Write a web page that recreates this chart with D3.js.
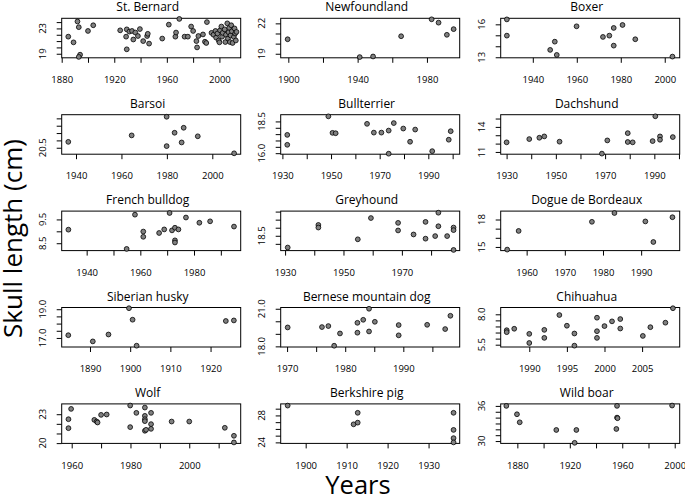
<!DOCTYPE html>
<html><head><meta charset="utf-8">
<script src="https://cdn.jsdelivr.net/npm/d3@7"></script>
<style>body{margin:0;background:#fff}svg{display:block}text{font-family:"Open Sans",sans-serif;fill:#000}</style>
</head><body><svg id="c" width="685" height="498"></svg>
<script>
// ---------- data (year, skull length in cm) ----------
const titles = ["St. Bernard","Newfoundland","Boxer","Barsoi","Bullterrier","Dachshund","French bulldog","Greyhound","Dogue de Bordeaux","Siberian husky","Bernese mountain dog","Chihuahua","Wolf","Berkshire pig","Wild boar"];

const stBernardYears = [1885,1889,1892,1893,1894,1893,1900,1904,1924.5,1929.5,1929,1929.5,1931.5,1933.5,1934.5,1936,1938,1939.5,1942,1945,1945.5,1946.5,1956.5,1961.5,1966.5,1967,1969.5,1973.5,1976,1978.5,1980,1982.5,1983,1984,1987.5,1989,1990,1990.5,1994,1995.5,1997,1997.5,1998.5,1999.5,2000,2000.5,2001.5,2002,2002.5,2004,2004.5,2005,2006,2006.5,2007,2007.5,2008,2008.5,2009,2009.5,2010,2011,2011.5,2012,2012.5,2013];
const stBernardSkull = [21.7,20.8,24.1,23.2,18.85,18.5,22.6,23.5,22.7,22.85,21.7,19.7,22.5,22.6,21.25,22.35,21.8,22.9,21.0,21.8,22.15,20.6,21.4,23.6,21.7,22.35,24.5,21.7,21.7,23.3,22.6,21.0,20.0,21.8,22.05,20.9,20.7,24.0,22.3,22.0,22.6,21.55,22.2,21.1,20.8,22.7,23.3,21.7,22.3,22.85,20.85,22.0,23.8,21.4,22.4,23.1,20.85,21.9,23.5,22.55,20.7,21.65,23.0,22.2,21.1,22.45];

const newfoundlandYears = [1899.6,1941.2,1948.9,1965.1,1982.7,1986.7,1991.5,1995.4];
const newfoundlandSkull = [20.43,18.67,18.73,20.73,22.4,22.07,20.87,21.43];

const boxerYears = [1928.2,1928.2,1947.9,1950,1950.9,1959.9,1971.9,1974.8,1976.8,1976.8,1980.8,1986.6,2003.5];
const boxerSkull = [16.45,14.97,13.67,14.42,13.21,15.82,14.85,14.97,15.67,14.06,15.94,14.64,13.06];

const barsoiYears = [1936.6,1964.5,1979.9,1979.9,1983.4,1986.5,1987.4,1993.6,2009.6];
const barsoiSkull = [20.9,21.34,22.61,20.61,21.52,20.86,21.86,21.28,20.12];

const bullterrierYears = [1932,1932,1948.9,1950.6,1951.9,1964.8,1967.6,1970.7,1973.7,1973.7,1975.8,1979.7,1982.5,1984.6,1991.6,1998.4,1999.2];
const bullterrierSkull = [17.44,16.66,18.9,17.6,17.57,18.31,17.62,17.62,17.78,15.96,18.37,17.94,16.9,17.86,16.16,17.06,17.73];

const dachshundYears = [1930,1939.2,1943.3,1945.3,1951.5,1968.7,1970.9,1979.2,1979.2,1981.2,1989.3,1990.4,1992.3,1992.3,1997.5];
const dachshundSkull = [12.15,12.54,12.7,12.86,12.23,10.8,12.38,13.25,12.19,12.15,12.3,15.27,12.86,12.46,12.78];

const frenchBulldogYears = [1933.2,1954.9,1958,1961.1,1961.1,1967,1968.9,1970.9,1971.8,1972.9,1972.9,1972.9,1974.2,1977,1982,1986,1994.9];
const frenchBulldogSkull = [9.07,8.26,9.7,8.99,8.77,8.93,9.08,9.77,9.04,9.15,8.62,8.53,9.08,9.58,9.36,9.42,9.2];

const greyhoundYears = [1930.9,1941.4,1941.4,1954.9,1959.4,1968.7,1968.7,1974,1978.1,1978.1,1981.4,1982.5,1982.5,1985.5,1987.7,1987.7,1987.7];
const greyhoundSkull = [17.77,19.17,19.01,18.28,19.6,19.3,18.83,18.58,19.36,18.32,18.48,19.93,19.09,18.48,19.01,18.85,17.62];

const dogueYears = [1954.9,1957.9,1977.1,1983,1991.1,1993.2,1998.2];
const dogueSkull = [14.71,16.75,17.75,18.71,17.79,15.54,18.25];

const huskyYears = [1884.6,1890.7,1894.6,1899.7,1900.6,1901.6,1923.8,1925.8];
const huskySkull = [17.19,16.76,17.24,19.07,18.27,16.46,18.18,18.22];

const berneseYears = [1970.1,1976,1977.1,1978.1,1979.1,1982.1,1982.1,1983.1,1984.1,1984.1,1985.1,1989.2,1989.2,1994.1,1997.2,1998.1];
const berneseSkull = [19.51,19.54,19.62,18.05,19.03,19.88,19.09,20.12,21.0,19.19,19.96,19.7,18.88,19.72,19.38,20.44];

const chihuahuaYears = [1987,1987,1988,1990,1990,1992,1992,1994,1995,1996,1996,1999,1999,1999,2000,2001,2002.1,2002.1,2005.1,2006.1,2008.1,2009.1];
const chihuahuaSkull = [6.69,6.53,6.81,6.39,5.64,6.72,6.06,7.94,7.06,6.42,5.42,7.72,6.61,6.06,7.03,7.42,7.61,6.83,6.22,6.94,7.31,8.5];

const wolfYears = [1958.9,1958.9,1959.8,1967.7,1968.5,1968.8,1970,1971.9,1979.9,1979.9,1982,1984.9,1984.9,1984.9,1984.9,1984.9,1985.3,1987,1987,1987,1994,2000,2012.1,2015.2,2015.2];
const wolfSkull = [22.48,21.55,23.55,22.41,22.24,22.14,22.93,22.97,23.9,21.66,23.14,23.69,22.83,22.48,22.28,21.28,21.38,23.14,21.97,21.48,22.24,22.24,21.59,20.76,20.07];

const berkshireYears = [1895.6,1911.7,1912.7,1912.7,1936.1,1936.1,1936.1,1936.1];
const berkshireSkull = [29.46,26.68,26.93,28.39,28.39,25.85,24.63,24.0];

const boarYears = [1871.6,1879.7,1881.8,1909.7,1925,1923.7,1955.5,1956,1956,1956.4,1998];
const boarSkull = [36.0,34.57,33.2,31.89,31.89,29.7,32.06,36.0,34.0,33.9,36.06];

// ---------- axis ranges and ticks (data units) ----------
const xRanges = [[1880,2016.2],[1895.6,1998.9],[1925.4,2006.8],[1933.7,2012.5],[1929.3,2002.9],[1927.6,2000.3],[1930.7,1997.4],[1928.5,1989.8],[1953.2,2000.1],[1882.96,1927.5],[1968.9,1999.7],[1986.2,2010.0],[1956.6,2017.5],[1893.9,1937.6],[1867.3,2003.8]];
const yRanges = [[18.36,24.6],[18.6,22.5],[12.95,16.55],[20.06,22.75],[15.92,19.03],[10.73,15.46],[8.19,9.85],[17.58,20.03],[14.6,18.92],[16.37,19.12],[17.95,21.1],[5.31,8.56],[19.97,24.07],[23.85,29.71],[29.6,36.34]];

const xTicks = [[1880,1900,1920,1940,1960,1980,2000],[1900,1920,1940,1960,1980],[1940,1960,1980,2000],[1940,1960,1980,2000],[1930,1940,1950,1960,1970,1980,1990,2000],[1930,1940,1950,1960,1970,1980,1990,2000],[1940,1950,1960,1970,1980,1990],[1930,1940,1950,1960,1970,1980],[1960,1970,1980,1990],[1890,1900,1910,1920],[1970,1975,1980,1985,1990,1995],[1990,1995,2000,2005],[1960,1970,1980,1990,2000,2010],[1900,1910,1920,1930],[1880,1900,1920,1940,1960,1980,2000]];
const xTickLabels = [[1880,1920,1960,2000],[1900,1940,1980],[1940,1960,1980,2000],[1940,1960,1980,2000],[1930,1950,1970,1990],[1930,1950,1970,1990],[1940,1960,1980],[1930,1950,1970],[1960,1970,1980,1990],[1890,1900,1910,1920],[1970,1980,1990],[1990,1995,2000,2005],[1960,1980,2000],[1900,1910,1920,1930],[1880,1920,1960,2000]];

const yTicks = [[19,20,21,22,23,24],[19,20,21,22],[13,14,15,16],[20.5,21,21.5,22,22.5],[16,16.5,17,17.5,18,18.5],[11,12,13,14,15],[8.5,9,9.5],[18,18.5,19,19.5,20],[15,16,17,18],[17,17.5,18,18.5,19],[18,19,20,21],[5.5,6,6.5,7,7.5,8],[20,21,22,23],[24,25,26,27,28,29],[30,31,32,33,34,35,36]];
const yTickLabels = [["19","23"],["19","22"],["13","16"],["20.5"],["16.0","18.5"],["11","14"],["8.5","9.5"],["18.5"],["15","18"],["17.0","19.0"],["18.0","21.0"],["5.5","8.0"],["20","23"],["24","28"],["30","36"]];

const yearsList = [stBernardYears,newfoundlandYears,boxerYears,barsoiYears,bullterrierYears,dachshundYears,frenchBulldogYears,greyhoundYears,dogueYears,huskyYears,berneseYears,chihuahuaYears,wolfYears,berkshireYears,boarYears];
const skullList = [stBernardSkull,newfoundlandSkull,boxerSkull,barsoiSkull,bullterrierSkull,dachshundSkull,frenchBulldogSkull,greyhoundSkull,dogueSkull,huskySkull,berneseSkull,chihuahuaSkull,wolfSkull,berkshireSkull,boarSkull];

// ---------- layout ----------
const svg = d3.select("#c");
const colLeft = [61.7, 280.7, 500.7];
const boxW = 179, boxH = 39.5;
const rowTop = i => 18.3 + 96.4 * i;

titles.forEach((title, k) => {
  const col = k % 3, row = Math.floor(k / 3);
  const L = colLeft[col], T = rowTop(row);
  const x = d3.scaleLinear().domain(xRanges[k]).range([L, L + boxW]);
  const y = d3.scaleLinear().domain(yRanges[k]).range([T + boxH, T]);
  const g = svg.append("g");

  // x axis
  const xa = g.append("g").attr("transform", `translate(0,${T + boxH})`)
    .call(d3.axisBottom(x).tickValues(xTicks[k]).tickSize(5).tickPadding(13.5)
      .tickFormat(d => xTickLabels[k].includes(d) ? String(d) : ""));
  xa.select(".domain").remove();
  xa.selectAll("line").attr("stroke", "#000").attr("stroke-width", 1);
  xa.selectAll("text").attr("font-size", 9.5).attr("font-family", "Open Sans").attr("fill", "#000");

  // y axis
  const ya = g.append("g").attr("transform", `translate(${L},0)`)
    .call(d3.axisLeft(y).tickValues(yTicks[k]).tickSize(5).tickFormat(""));
  ya.select(".domain").remove();
  ya.selectAll("line").attr("stroke", "#000").attr("stroke-width", 1);
  yTickLabels[k].forEach(lab => {
    g.append("text")
      .attr("transform", `translate(${L - 15.5},${y(+lab)}) rotate(-90)`)
      .attr("text-anchor", "middle").attr("font-size", 9.5).text(lab);
  });

  // box
  g.append("rect").attr("x", L).attr("y", T).attr("width", boxW).attr("height", boxH)
    .attr("fill", "none").attr("stroke", "#000").attr("stroke-width", 1);

  // title
  g.append("text").attr("x", L + boxW / 2 - 3.5).attr("y", T - 6.9)
    .attr("text-anchor", "middle").attr("font-size", 12).text(title);

  // points
  g.selectAll("circle").data(yearsList[k].map((yr, i) => [yr, skullList[k][i]]))
    .enter().append("circle")
    .attr("cx", d => x(d[0])).attr("cy", d => y(d[1])).attr("r", 2.4)
    .attr("fill", "#808080").attr("stroke", "#000").attr("stroke-width", 0.8);
});

svg.append("text").attr("x", 358).attr("y", 494).attr("text-anchor", "middle")
  .attr("font-size", 25.5).text("Years");
svg.append("text").attr("transform", "translate(22,238.5) rotate(-90)").attr("text-anchor", "middle")
  .attr("font-size", 26).text("Skull length (cm)");
</script></body></html>
